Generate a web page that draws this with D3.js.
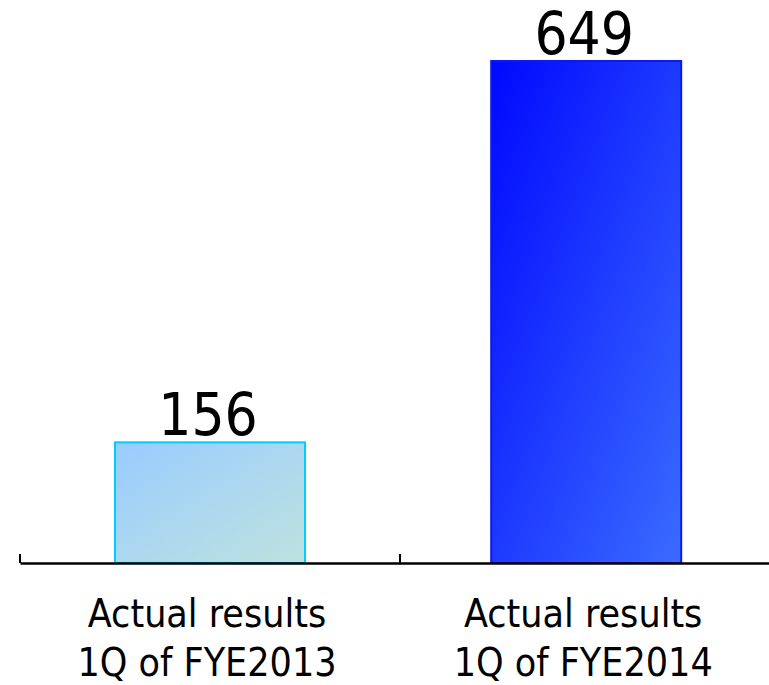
<!DOCTYPE html>
<html>
<head>
<meta charset="utf-8">
<script src="https://cdn.jsdelivr.net/npm/d3@7"></script>
<style>
  html, body { margin: 0; padding: 0; background: #fff; }
  svg { display: block; }
  text { font-family: 'DejaVu Sans Condensed', 'DejaVu Sans', sans-serif; font-stretch: condensed; fill: #000; }
</style>
</head>
<body>
<svg id="chart" width="769" height="685"></svg>
<script>
const categories = ["Actual results\n1Q of FYE2013", "Actual results\n1Q of FYE2014"];
const values = [156, 649];
const valueLabels = ["156", "649"];

const svg = d3.select("#chart");
const baseY = 563;

const x = d3.scaleBand().domain(categories).range([20, 780]).paddingInner(0).paddingOuter(0);
const y = d3.scaleLinear().domain([0, 649]).range([baseY, 61]);

const defs = svg.append("defs");
const g1 = defs.append("linearGradient").attr("id", "grad0").attr("x1", 0).attr("y1", 0).attr("x2", 1).attr("y2", 1);
g1.append("stop").attr("offset", "0%").attr("stop-color", "#99CCFF");
g1.append("stop").attr("offset", "100%").attr("stop-color", "#BEE2DF");
const g2 = defs.append("linearGradient").attr("id", "grad1").attr("x1", 0).attr("y1", 0).attr("x2", 1).attr("y2", 1);
g2.append("stop").attr("offset", "0%").attr("stop-color", "#0008FF");
g2.append("stop").attr("offset", "100%").attr("stop-color", "#3A6CFF");

const strokes = ["#00CCFF", "#0A1AF0"];
const barFrac = 0.5;
const offsets = [0.25, 0.24];

svg.selectAll("rect.bar").data(values).join("rect")
  .attr("class", "bar")
  .attr("x", (d, i) => x(categories[i]) + x.bandwidth() * offsets[i])
  .attr("width", x.bandwidth() * barFrac)
  .attr("y", d => y(d))
  .attr("height", d => baseY - y(d))
  .attr("fill", (d, i) => `url(#grad${i})`)
  .attr("stroke", (d, i) => strokes[i])
  .attr("stroke-width", 2);

// value labels
svg.selectAll("text.val").data(values).join("text")
  .attr("class", "val")
  .attr("x", (d, i) => x(categories[i]) + x.bandwidth() * (offsets[i] + barFrac / 2) - 2)
  .attr("y", d => y(d) - 7)
  .attr("text-anchor", "middle")
  .attr("font-size", 58)
  .text((d, i) => valueLabels[i]);

// axis baseline and ticks
const axis = d3.axisBottom(x).tickSizeInner(0).tickSizeOuter(0).tickFormat("");
const axG = svg.append("g").attr("transform", `translate(0,${baseY})`).call(axis);
axG.select(".domain").attr("stroke", "#000").attr("stroke-width", 2.5);
axG.selectAll(".tick").remove();
// ticks at category boundaries
const bounds = categories.map(c => x(c)).concat([x(categories[categories.length - 1]) + x.bandwidth()]);
axG.selectAll("line.bt").data(bounds).join("line")
  .attr("class", "bt")
  .attr("x1", d => d).attr("x2", d => d)
  .attr("y1", 0).attr("y2", -9)
  .attr("stroke", "#000").attr("stroke-width", 2);

// category labels
const lab = svg.selectAll("text.cat").data(categories).join("text")
  .attr("class", "cat")
  .attr("text-anchor", "middle")
  .attr("font-size", 39);
lab.each(function(c, i) {
  const t = d3.select(this);
  const cx = x(c) + x.bandwidth() * (offsets[i] + barFrac / 2) - 3;
  c.split("\n").forEach((line, j) => {
    t.append("tspan").attr("x", cx).attr("y", 627 + j * 49).text(line);
  });
});
</script>
</body>
</html>
